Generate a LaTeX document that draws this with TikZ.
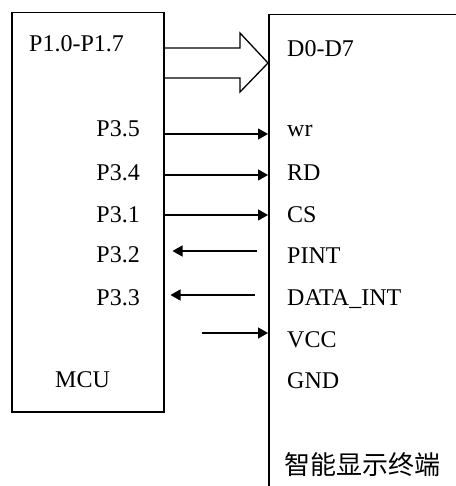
\documentclass[tikz,border=0pt]{standalone}
\usepackage{fontspec}
\setmainfont{Liberation Serif}
\newfontfamily\cjk{Noto Sans CJK SC}
\usetikzlibrary{arrows.meta}

\begin{document}
\begin{tikzpicture}[
  x=1pt, y=-1pt, font=\fontsize{24}{28}\selectfont,
  blk/.style={draw, line width=1.5pt, anchor=north west, inner sep=0pt},
  pin/.style={inner sep=0pt},
  sig/.style={line width=1.3pt, -{Triangle[length=10pt,width=11pt]}}
]
\useasboundingbox (0,0) rectangle (455,486);
\node[blk, minimum width=152pt, minimum height=399pt] (mcu) at (11,12) {};
\node[blk, minimum width=260pt, minimum height=520pt] (term) at (268,14) {};

\node[pin, anchor=base west] (p1) at (29,52) {P1.0-P1.7};
\node[pin, anchor=base west] (d) at (287,57) {D0-D7};
\draw[line width=1.3pt] (mcu.east |- 0,48) -- (240,48) -- (240,33) -- (term.west |- 0,63)
  -- (240,92) -- (240,78) -- (mcu.east |- 0,78);

\foreach \l/\r/\b/\y in {P3.5/wr/137/134, P3.4/RD/180/175, P3.1/CS/222/215} {
  \node[pin, anchor=base east] at (140,\b) {\l};
  \node[pin, anchor=base west] at (287,\b) {\r};
  \draw[sig] (mcu.east |- 0,\y) -- (term.west |- 0,\y);
}
\node[pin, anchor=base east] (p32) at (140,262) {P3.2};
\node[pin, anchor=base west] (pint) at (287,263) {PINT};
\draw[sig, shorten <=11pt, shorten >=8pt] (term.west |- 0,251) -- (mcu.east |- 0,251);
\node[pin, anchor=base east] (p33) at (140,305) {P3.3};
\node[pin, anchor=base west] (dint) at (287,305) {DATA\_INT};
\draw[sig, shorten <=13pt, shorten >=6pt] (term.west |- 0,295) -- (mcu.east |- 0,295);
\node[pin, anchor=base west] (vcc) at (287,347) {VCC};
\draw[sig, shorten <=37pt] (mcu.east |- 0,333) -- (term.west |- 0,333);
\node[pin, anchor=base west] (gnd) at (287,388) {GND};
\node[pin, anchor=base west] (name) at (55,387) {MCU};
\node[pin, anchor=base west, font=\cjk\fontsize{26}{30}\selectfont] (title) at (284,474) {智能显示终端};
\end{tikzpicture}
\end{document}
